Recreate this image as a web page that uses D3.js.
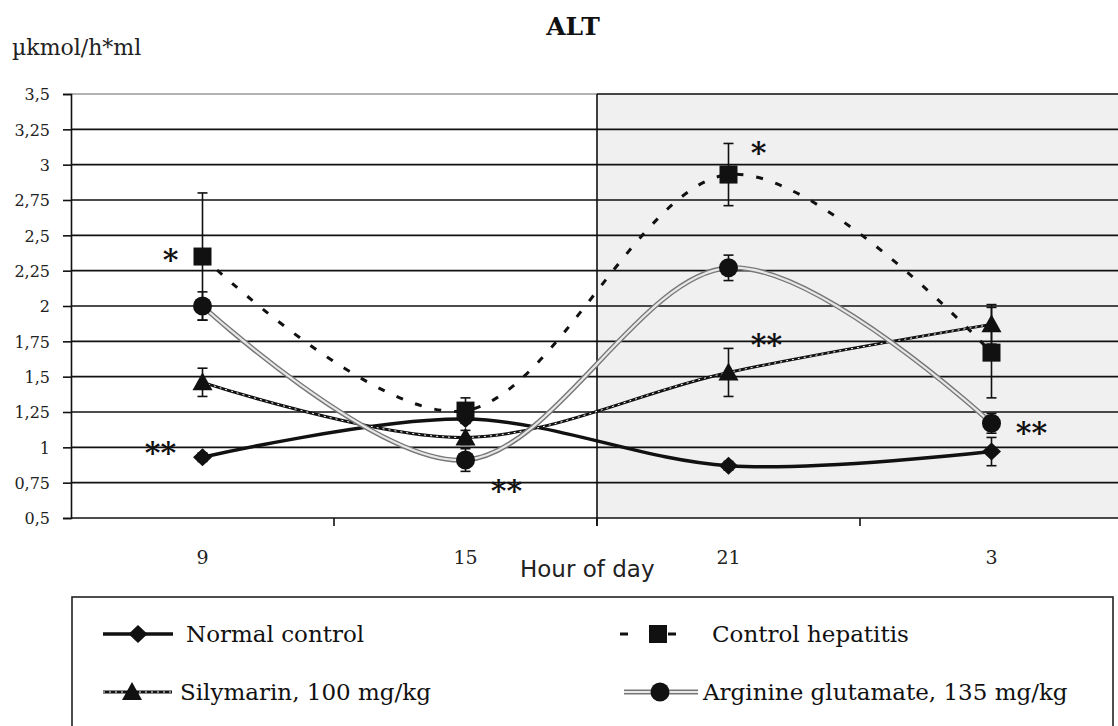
<!DOCTYPE html>
<html lang="en">
  <head>
    <meta charset="utf-8">
    <title>ALT</title>
    <script src="https://cdn.jsdelivr.net/npm/d3@7"></script>
    <style>
      body { margin: 0; background: #fff; }
      svg text { font-family: "DejaVu Serif", serif; }
    </style>
  </head>
  <body>
    <script>
      // hours of sampling and y ticks
      const hours = ["9", "15", "21", "3"];
      const yTicks = [0.5, 0.75, 1, 1.25, 1.5, 1.75, 2, 2.25, 2.5, 2.75, 3, 3.25, 3.5];

      // series values and error bars
      const normalControl = [0.93, 1.2, 0.87, 0.97];
      const normalControlErr = [0.03, 0.03, 0.03, 0.1];
      const controlHepatitis = [2.35, 1.26, 2.93, 1.67];
      const controlHepatitisErr = [0.45, 0.09, 0.22, 0.32];
      const silymarin = [1.46, 1.07, 1.53, 1.87];
      const silymarinErr = [0.1, 0.05, 0.17, 0.14];
      const arginine = [2.0, 0.91, 2.27, 1.17];
      const arginineErr = [0.1, 0.08, 0.09, 0.07];

      // significance marks
      const starText = ["*", "**", "**", "*", "**", "**"];
      const starHour = ["9", "9", "15", "21", "21", "3"];
      const starValue = [2.375, 1.01, 0.74, 3.13, 1.774, 1.15];

      const W = 1118, H = 726;
      const LEFT = 71, TOP = 94, BOTTOM = 518;
      const STEP = 263;
      const SERIF = "DejaVu Serif";

      var svg = d3.select("body").append("svg")
        .attr("width", W)
        .attr("height", H);

      var x = d3.scaleBand()
        .domain(hours)
        .range([LEFT, LEFT + STEP * hours.length])
        .padding(0);
      var y = d3.scaleLinear().domain([0.5, 3.5]).range([BOTTOM, TOP]);
      var cx = h => x(h) + x.bandwidth() / 2;

      var locale = d3.formatLocale({decimal: ",", thousands: " ", grouping: [3], currency: ["", ""]});
      var fmt = locale.format("~g");

      // night shading, from 21 on
      svg.append("rect")
        .attr("x", x("21"))
        .attr("y", y(3.5))
        .attr("width", x.range()[1] - x("21"))
        .attr("height", y(0.5) - y(3.5))
        .attr("fill", "#f0f0f0");

      // grid lines
      svg.append("g").selectAll("line")
        .data(yTicks.slice(1))
        .join("line")
        .attr("x1", LEFT).attr("x2", x.range()[1])
        .attr("y1", d => y(d)).attr("y2", d => y(d))
        .attr("stroke", d => d == 3.5 ? "#999" : "#111")
        .attr("stroke-width", 1.6);
      svg.append("line")
        .attr("x1", x("21")).attr("x2", x.range()[1])
        .attr("y1", y(3.5)).attr("y2", y(3.5))
        .attr("stroke", "#222").attr("stroke-width", 1.6);

      // separator between day and night
      svg.append("line")
        .attr("x1", x("21")).attr("x2", x("21"))
        .attr("y1", y(3.5)).attr("y2", y(0.5) + 8)
        .attr("stroke", "#111").attr("stroke-width", 1.6);

      // y axis
      var yAxis = svg.append("g")
        .attr("transform", "translate(" + LEFT + ",0)")
        .call(d3.axisLeft(y).tickValues(yTicks).tickFormat(fmt).tickSize(8).tickPadding(13));
      yAxis.attr("font-family", SERIF);
      yAxis.select(".domain").attr("stroke", "#111").attr("stroke-width", 1.6);
      yAxis.selectAll(".tick line").attr("stroke", "#111").attr("stroke-width", 1.6);
      yAxis.selectAll(".tick text")
        .attr("font-family", SERIF)
        .attr("font-size", 16)
        .attr("fill", "#222")
        .attr("dy", "0.36em");

      // x axis
      svg.append("line")
        .attr("x1", LEFT).attr("x2", x.range()[1])
        .attr("y1", BOTTOM).attr("y2", BOTTOM)
        .attr("stroke", "#111").attr("stroke-width", 1.6);
      svg.append("g").selectAll("line")
        .data(hours.slice(1))
        .join("line")
        .attr("x1", d => x(d)).attr("x2", d => x(d))
        .attr("y1", BOTTOM).attr("y2", BOTTOM + 8)
        .attr("stroke", "#111").attr("stroke-width", 1.6);
      svg.append("g").selectAll("text")
        .data(hours)
        .join("text")
        .attr("x", d => cx(d))
        .attr("y", 564)
        .attr("text-anchor", "middle")
        .attr("font-family", SERIF)
        .attr("font-size", 19)
        .attr("fill", "#222")
        .text(d => d);

      svg.append("text")
        .attr("x", 520).attr("y", 577)
        .attr("style", "font-family: 'DejaVu Sans', sans-serif;")
        .attr("font-size", 23)
        .attr("fill", "#222")
        .text("Hour of day");

      // title and unit
      svg.append("text")
        .attr("x", 573).attr("y", 35)
        .attr("text-anchor", "middle")
        .attr("font-family", SERIF)
        .attr("font-weight", "bold")
        .attr("font-size", 25)
        .attr("fill", "#111")
        .text("ALT");
      svg.append("text")
        .attr("x", 12).attr("y", 55)
        .attr("font-family", SERIF)
        .attr("font-size", 22)
        .attr("fill", "#222")
        .text("µkmol/h*ml");

      // marker shapes
      function marker(sel, shape) {
        if (shape == "circle") {
          sel.append("circle").attr("r", 9.5).attr("fill", "#111");
        } else if (shape == "square") {
          sel.append("rect").attr("x", -9).attr("y", -9).attr("width", 18).attr("height", 18).attr("fill", "#111");
        } else if (shape == "diamond") {
          sel.append("path").attr("d", "M0,-9L9.5,0L0,9L-9.5,0Z").attr("fill", "#111");
        } else {
          sel.append("path").attr("d", "M0,-10L10,8L-10,8Z").attr("fill", "#111");
        }
      }

      // line looks
      function drawLine(g, d, style) {
        if (style == "solid") {
          g.append("path").attr("d", d).attr("fill", "none")
            .attr("stroke", "#111").attr("stroke-width", 3.5);
        } else if (style == "dashed") {
          g.append("path").attr("d", d).attr("fill", "none")
            .attr("stroke", "#111").attr("stroke-width", 3)
            .attr("stroke-dasharray", "7,13");
        } else if (style == "wavy") {
          g.append("path").attr("d", d).attr("fill", "none")
            .attr("stroke", "#111").attr("stroke-width", 3);
          g.append("path").attr("d", d).attr("fill", "none")
            .attr("stroke", "#fff").attr("stroke-width", 1)
            .attr("stroke-dasharray", "2,4");
        } else {
          g.append("path").attr("d", d).attr("fill", "none")
            .attr("stroke", "#777").attr("stroke-width", 5);
          g.append("path").attr("d", d).attr("fill", "none")
            .attr("stroke", "#e8e8e8").attr("stroke-width", 2.2);
        }
      }

      var series = [
        {name: "Normal control", values: normalControl, err: normalControlErr, shape: "diamond", style: "solid"},
        {name: "Control hepatitis", values: controlHepatitis, err: controlHepatitisErr, shape: "square", style: "dashed"},
        {name: "Silymarin, 100 mg/kg", values: silymarin, err: silymarinErr, shape: "triangle", style: "wavy"},
        {name: "Arginine glutamate, 135 mg/kg", values: arginine, err: arginineErr, shape: "circle", style: "double"}
      ];

      var line = d3.line()
        .x((d, i) => cx(hours[i]))
        .y(d => y(d))
        .curve(d3.curveCatmullRom.alpha(0));

      series.forEach(function(s) {
        var g = svg.append("g");
        drawLine(g, line(s.values), s.style);
        // error bars
        var eb = g.append("g").selectAll("g")
          .data(s.values)
          .join("g")
          .attr("stroke", "#111").attr("stroke-width", 1.6);
        eb.append("line")
          .attr("x1", (d, i) => cx(hours[i])).attr("x2", (d, i) => cx(hours[i]))
          .attr("y1", (d, i) => y(d + s.err[i])).attr("y2", (d, i) => y(d - s.err[i]));
        eb.append("line")
          .attr("x1", (d, i) => cx(hours[i]) - 5).attr("x2", (d, i) => cx(hours[i]) + 5)
          .attr("y1", (d, i) => y(d + s.err[i])).attr("y2", (d, i) => y(d + s.err[i]));
        eb.append("line")
          .attr("x1", (d, i) => cx(hours[i]) - 5).attr("x2", (d, i) => cx(hours[i]) + 5)
          .attr("y1", (d, i) => y(d - s.err[i])).attr("y2", (d, i) => y(d - s.err[i]));
        g.append("g").selectAll("g")
          .data(s.values)
          .join("g")
          .attr("transform", (d, i) => "translate(" + cx(hours[i]) + "," + y(d) + ")")
          .each(function() { marker(d3.select(this), s.shape); });
      });

      // stars
      const starDx = [-32, -42, 41, 30, 38, 40];
      svg.append("g").selectAll("text")
        .data(starText)
        .join("text")
        .attr("x", (d, i) => cx(starHour[i]) + starDx[i])
        .attr("y", (d, i) => y(starValue[i]) + 17)
        .attr("text-anchor", "middle")
        .attr("font-family", SERIF)
        .attr("font-weight", "bold")
        .attr("font-size", 30)
        .attr("fill", "#111")
        .text(d => d);

      // legend
      svg.append("rect")
        .attr("x", 72).attr("y", 597)
        .attr("width", 1041).attr("height", 200)
        .attr("fill", "#fff")
        .attr("stroke", "#222").attr("stroke-width", 1.6);

      var legendPos = [
        {x: 103, x2: 173, m: 138, y: 634, tx: 186},
        {x: 620, x2: 676, m: 658, y: 634, tx: 712},
        {x: 103, x2: 172, m: 132, y: 692, tx: 180},
        {x: 624, x2: 698, m: 660, y: 692, tx: 703}
      ];
      series.forEach(function(s, i) {
        var p = legendPos[i];
        var g = svg.append("g");
        if (s.style == "dashed") {
          g.append("line").attr("x1", p.x).attr("x2", p.x2).attr("y1", p.y).attr("y2", p.y)
            .attr("stroke", "#111").attr("stroke-width", 3).attr("stroke-dasharray", "8,40");
        } else {
          drawLine(g, "M" + p.x + "," + p.y + "H" + p.x2, s.style);
        }
        marker(g.append("g").attr("transform", "translate(" + p.m + "," + p.y + ")"), s.shape);
        g.append("text")
          .attr("x", p.tx).attr("y", p.y + 8)
          .attr("font-family", SERIF)
          .attr("font-size", 23)
          .attr("fill", "#111")
          .text(s.name);
      });
    </script>
  </body>
</html>
